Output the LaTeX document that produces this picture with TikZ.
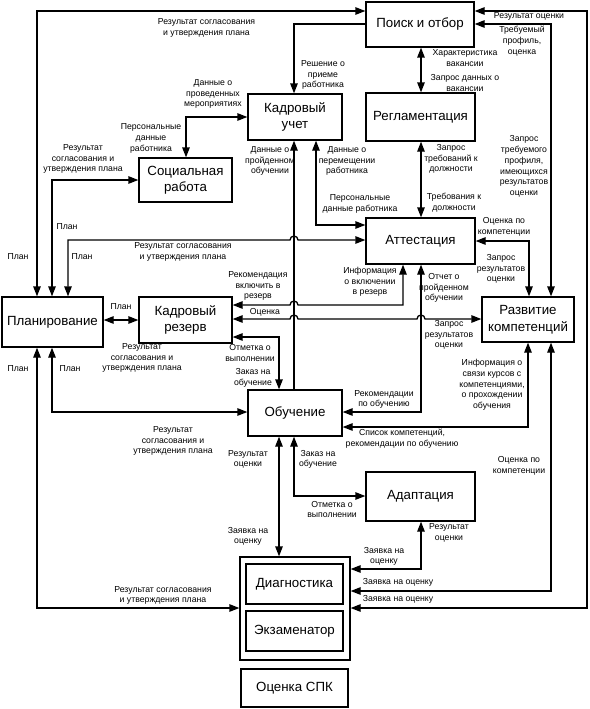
\documentclass[tikz,border=0pt]{standalone}
\usepackage{fontspec}
\setmainfont{Liberation Sans}
\usetikzlibrary{arrows.meta}
\begin{document}
\begin{tikzpicture}[x=1pt,y=-1pt,
  box/.style={draw,line width=1.3pt,inner sep=0pt,align=center,font=\fontsize{13.3}{16.5}\selectfont},
  lab/.style={inner sep=0pt,align=center,font=\fontsize{8.7}{10.7}\selectfont},
  con/.style={line width=1.3pt,{Triangle[length=10pt,width=7.5pt]}-{Triangle[length=10pt,width=7.5pt]}},
  arr/.style={line width=1.3pt,-{Triangle[length=10pt,width=7.5pt]}}]
\useasboundingbox (0,0) rectangle (589,709);
% boxes
\node[box,minimum width=108pt,minimum height=45pt] (poisk) at (420,24.5) {Поиск и отбор};
\node[box,minimum width=109pt,minimum height=48pt] (reglam) at (420.5,117) {Регламентация};
\node[box,minimum width=94pt,minimum height=46pt] (kuchet) at (295,117) {Кадровый\\учет};
\node[box,minimum width=93pt,minimum height=44pt] (soc) at (185.5,180) {Социальная\\работа};
\node[box,minimum width=109pt,minimum height=46pt] (att) at (420.5,241) {Аттестация};
\node[box,minimum width=101pt,minimum height=50pt] (plan) at (52.5,322) {Планирование};
\node[box,minimum width=93pt,minimum height=46pt] (rez) at (185.5,320) {Кадровый\\резерв};
\node[box,minimum width=92pt,minimum height=45pt] (razv) at (528,319.5) {Развитие\\компетенций};
\node[box,minimum width=94pt,minimum height=46pt] (obuch) at (295,413) {Обучение};
\node[box,minimum width=109pt,minimum height=49pt] (adapt) at (420.5,496.5) {Адаптация};
\node[box,minimum width=110pt,minimum height=103pt] (outer) at (295,608.5) {};
\node[box,minimum width=97pt,minimum height=40pt] (diag) at (294.5,584) {Диагностика};
\node[box,minimum width=97pt,minimum height=40pt] (exam) at (294.5,631) {Экзаменатор};
\node[box,minimum width=107pt,minimum height=38pt] (spk) at (294.5,688) {Оценка СПК};
% connectors
\draw[con] (plan.north -| 37,0) |- (poisk.west |- 0,11);
\draw[con] (plan.north -| 52,0) |- (soc.west |- 0,180);
\draw[con] (plan.north -| 68,0) -- (68,240) -- (290,240) arc[start angle=180,end angle=0,radius=4pt] -- (att.west |- 0,240);
\draw[con] (plan.east |- 0,320) -- (rez.west |- 0,320);
\draw[con] (plan.south -| 52,0) |- (obuch.west |- 0,412);
\draw[con] (plan.south -| 37,0) |- (outer.west |- 0,608);
\draw[arr] (poisk.west |- 0,24) -| (kuchet.north -| 294,0);
\draw[con] (soc.north -| 186,0) |- (kuchet.west |- 0,117);
\draw[con] (poisk.south -| 421,0) -- (reglam.north -| 421,0);
\draw[con] (reglam.south -| 421,0) -- (att.north -| 421,0);
\draw[con] (poisk.east |- 0,24) -| (razv.north -| 551,0);
\draw[con] (poisk.east |- 0,11) -- (587,11) -- (587,608) -- (outer.east |- 0,608);
\draw[con] (kuchet.south -| 316,0) |- (att.west |- 0,225);
\draw[arr] (obuch.north -| 294,0) -- (kuchet.south -| 294,0);
\draw[con] (att.east |- 0,241) -| (razv.north -| 529,0);
\draw[con] (att.south -| 403,0) -- (403,305) -- (298,305) arc[start angle=0,end angle=180,radius=4pt] -- (rez.east |- 0,305);
\draw[con] (rez.east |- 0,319) -- (290,319) arc[start angle=180,end angle=0,radius=4pt] -- (417,319) arc[start angle=180,end angle=0,radius=4pt] -- (razv.west |- 0,319);
\draw[con] (rez.east |- 0,337) -| (obuch.north -| 279,0);
\draw[con] (att.south -| 421,0) |- (obuch.east |- 0,412);
\draw[con] (razv.south -| 528,0) |- (obuch.east |- 0,427);
\draw[con] (obuch.south -| 279,0) -- (outer.north -| 279,0);
\draw[con] (obuch.south -| 294,0) |- (adapt.west |- 0,496);
\draw[con] (adapt.south -| 421,0) |- (outer.east |- 0,569);
\draw[con] (razv.south -| 551,0) |- (outer.east |- 0,591);
% labels
\node[lab] (l1) at (206.5,28) {Результат согласования\\и утверждения плана};
\node[lab] (l2) at (529,16) {Результат оценки};
\node[lab] (l3) at (522,41) {Требуемый\\профиль,\\оценка};
\node[lab] (l4) at (323,75) {Решение о\\приеме\\работника};
\node[lab] (l5) at (465,58) {Характеристика\\вакансии};
\node[lab] (l6) at (465,83) {Запрос данных о\\вакансии};
\node[lab] (l7) at (213,94) {Данные о\\проведенных\\мероприятиях};
\node[lab] (l8) at (151,138.5) {Персональные\\данные\\работника};
\node[lab] (l9) at (83,159) {Результат\\согласования и\\утверждения плана};
\node[lab] (l10) at (451,159) {Запрос\\требований к\\должности};
\node[lab] (l11) at (524,166.5) {Запрос\\требуемого\\профиля,\\имеющихся\\результатов\\оценки};
\node[lab] (l12) at (270,161) {Данные о\\пройденном\\обучении};
\node[lab] (l13) at (347,161) {Данные о\\перемещении\\работника};
\node[lab] (l14) at (360,204) {Персональные\\данные работника};
\node[lab] (l15) at (454,203) {Требования к\\должности};
\node[lab] (l16) at (504,226.5) {Оценка по\\компетенции};
\node[lab] (l17) at (67,227) {План};
\node[lab] (l18) at (183,252) {Результат согласования\\и утверждения плана};
\node[lab] (l19) at (18,257) {План};
\node[lab] (l19b) at (82,257) {План};
\node[lab] (l20) at (501,269) {Запрос\\результатов\\оценки};
\node[lab] (l21) at (258,286) {Рекомендация\\включить в\\резерв};
\node[lab] (l22) at (370,282) {Информация\\о включении\\в резерв};
\node[lab] (l23) at (444,288) {Отчет о\\пройденном\\обучении};
\node[lab] (l24) at (121,307) {План};
\node[lab] (l25) at (265,312) {Оценка};
\node[lab] (l26) at (449,335) {Запрос\\результатов\\оценки};
\node[lab] (l27) at (142,358) {Результат\\согласования и\\утверждения плана};
\node[lab] (l28) at (250,353) {Отметка о\\выполнении};
\node[lab] (l29) at (492,385) {Информация о\\связи курсов с\\компетенциями,\\о прохождении\\обучения};
\node[lab] (l30) at (18,369) {План};
\node[lab] (l30b) at (70,369) {План};
\node[lab] (l31) at (253,378) {Заказ на\\обучение};
\node[lab] (l32) at (384,399.5) {Рекомендации\\по обучению};
\node[lab] (l33) at (173,441) {Результат\\согласования и\\утверждения плана};
\node[lab] (l34) at (402,438.5) {Список компетенций,\\рекомендации по обучению};
\node[lab] (l35) at (248,459.5) {Результат\\оценки};
\node[lab] (l36) at (318,459.5) {Заказ на\\обучение};
\node[lab] (l37) at (519,466) {Оценка по\\компетенции};
\node[lab] (l38) at (332,509.5) {Отметка о\\выполнении};
\node[lab] (l39) at (449,533) {Результат\\оценки};
\node[lab] (l40) at (248,536.5) {Заявка на\\оценку};
\node[lab] (l41) at (384,556.5) {Заявка на\\оценку};
\node[lab] (l42) at (398,582) {Заявка на оценку};
\node[lab] (l43) at (398,599) {Заявка на оценку};
\node[lab] (l44) at (163,595.5) {Результат согласования\\и утверждения плана};
\end{tikzpicture}
\end{document}
